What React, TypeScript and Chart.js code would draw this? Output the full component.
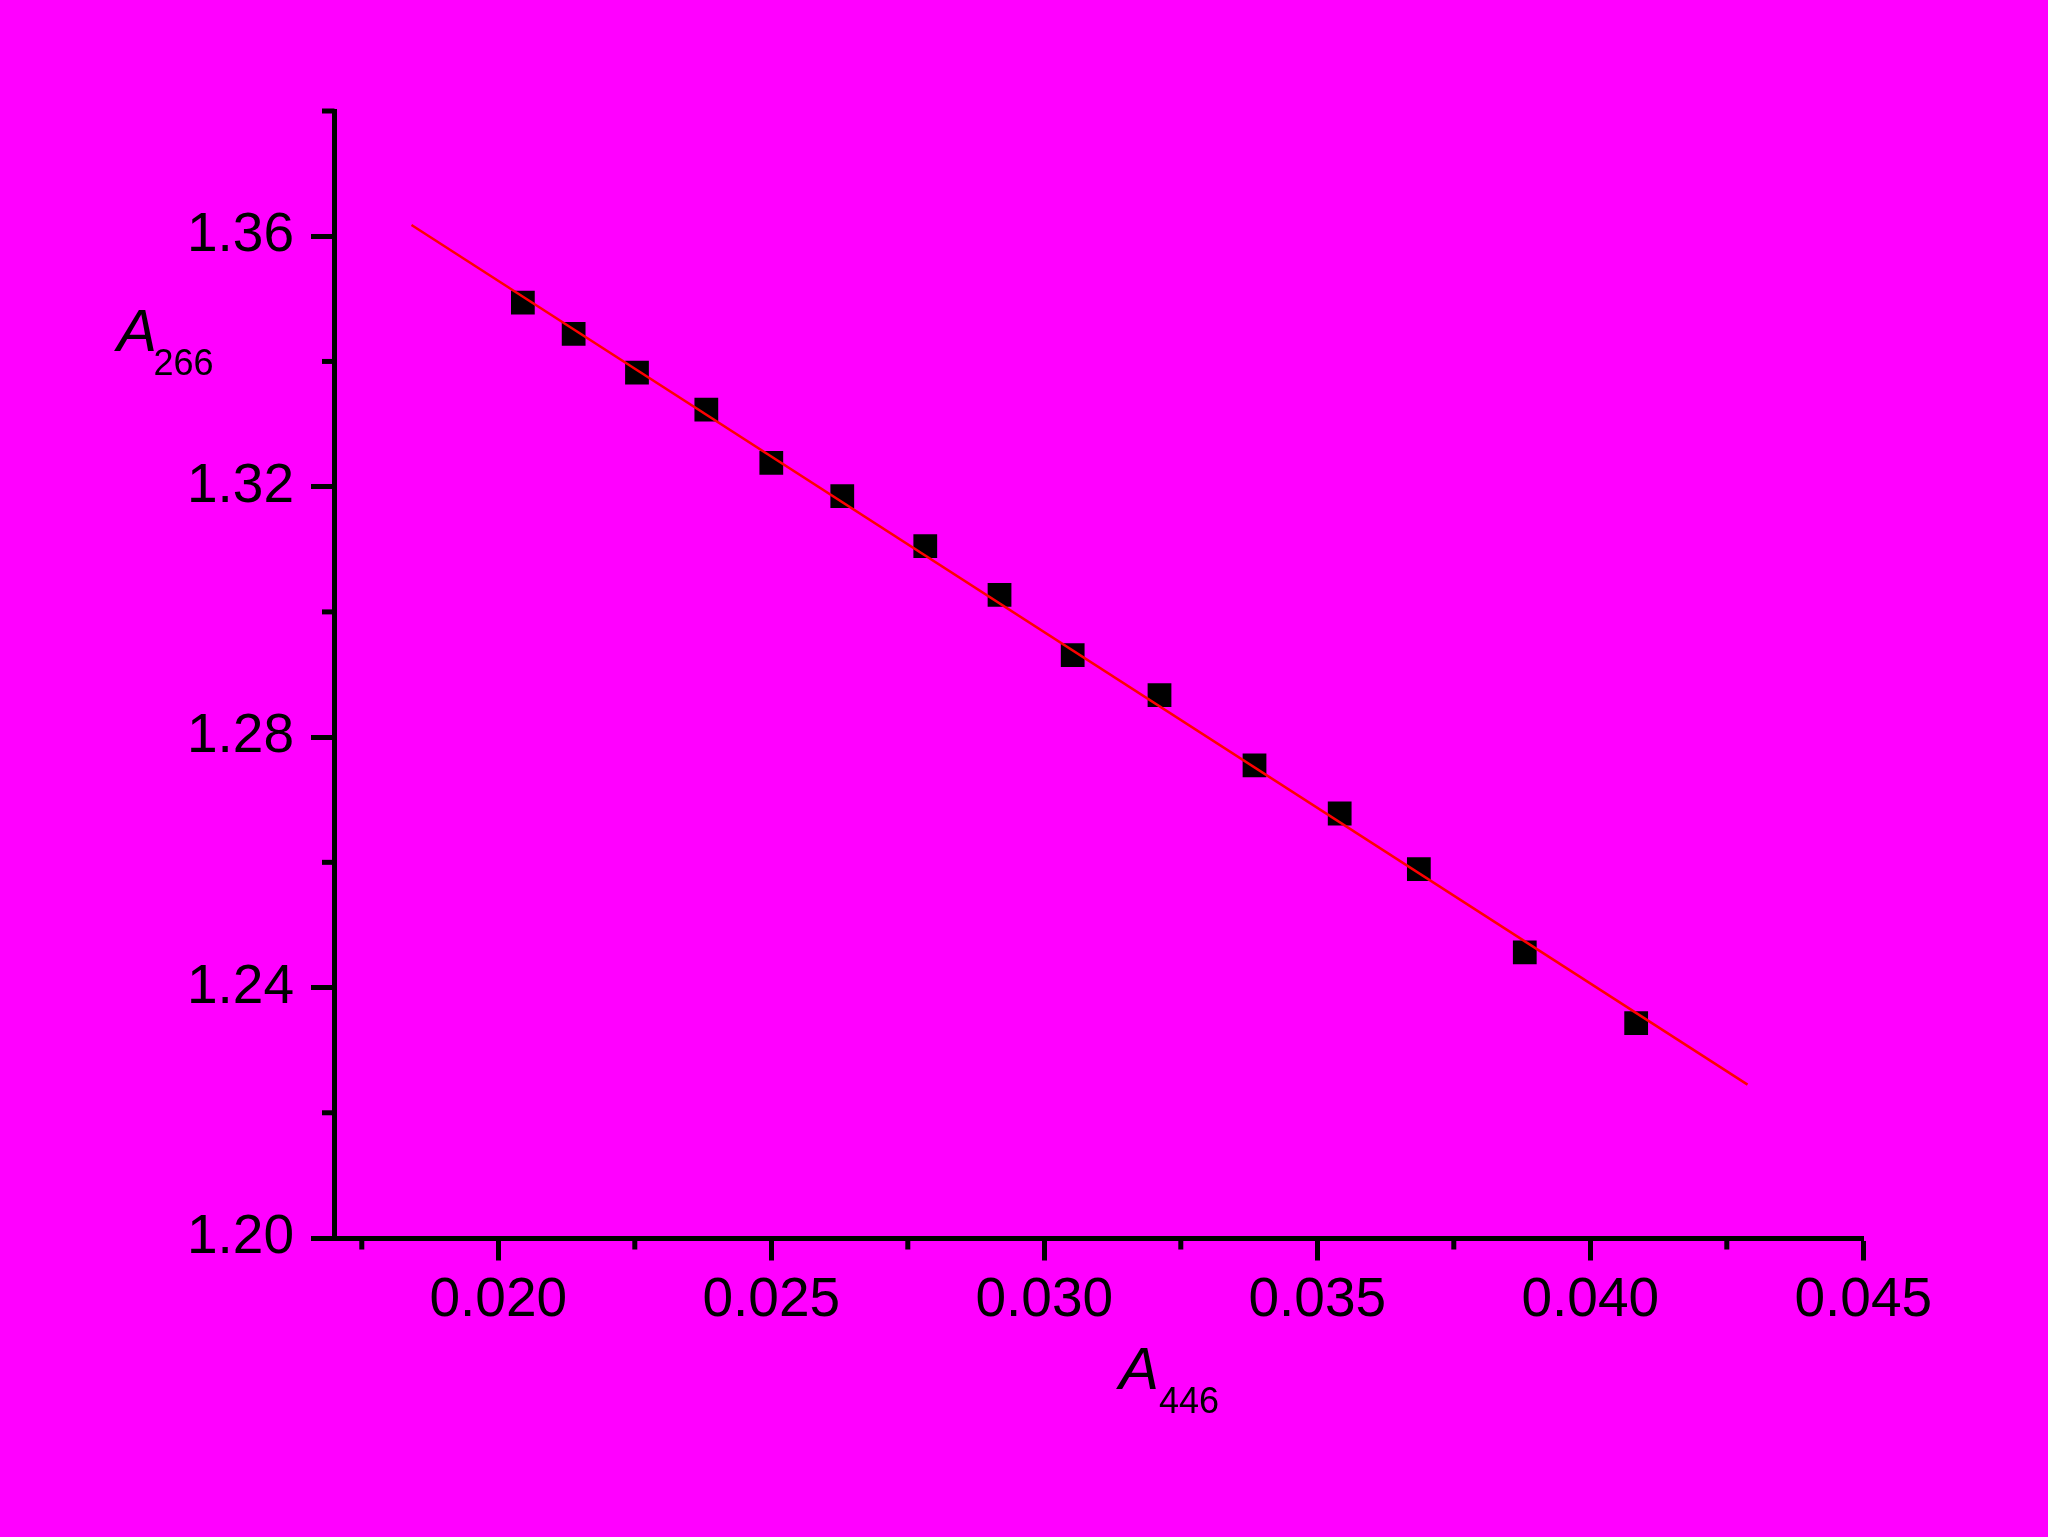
import { useEffect, useRef } from "react";
import { Chart, registerables } from "chart.js";

Chart.register(...registerables);

// Data
const a446 = [0.02045, 0.02138, 0.02254, 0.02381, 0.025, 0.0263, 0.02782, 0.02918, 0.03052, 0.03211, 0.03385, 0.03541, 0.03686, 0.0388, 0.04084];
const a266 = [1.3494, 1.3444, 1.3382, 1.3323, 1.3238, 1.3185, 1.3105, 1.3027, 1.2931, 1.2867, 1.2755, 1.2678, 1.2589, 1.2456, 1.2343];
const fitX = [0.01841, 0.04288];
const fitY = [1.3618, 1.2245];

const xTicks = [0.02, 0.025, 0.03, 0.035, 0.04, 0.045];
const xMinorTicks = [0.0175, 0.0225, 0.0275, 0.0325, 0.0375, 0.0425];
const yTicks = [1.2, 1.24, 1.28, 1.32, 1.36];
const yMinorTicks = [1.22, 1.26, 1.3, 1.34, 1.38];
const xRange = [0.017, 0.045];
const yRange = [1.2, 1.38];

const FONT = "'Liberation Sans', Arial, sans-serif";
const BG = "#FF00FF";
const AXIS_W = 5;

export default function App() {
  const ref = useRef<HTMLCanvasElement | null>(null);

  useEffect(() => {
    if (!ref.current) return;

    const bgPlugin = {
      id: "bg",
      beforeDraw(chart: any) {
        const { ctx, width, height } = chart;
        ctx.save();
        ctx.fillStyle = BG;
        ctx.fillRect(0, 0, width, height);
        ctx.restore();
      },
    };

    const minorPlugin = {
      id: "minorTicks",
      afterDraw(chart: any) {
        const { ctx, chartArea } = chart;
        const xs = chart.scales.x;
        const ys = chart.scales.y;
        ctx.save();
        ctx.strokeStyle = "#000";
        ctx.lineWidth = AXIS_W;
        ctx.lineCap = "butt";
        xMinorTicks.forEach((v) => {
          const px = xs.getPixelForValue(v);
          ctx.beginPath();
          ctx.moveTo(px, chartArea.bottom);
          ctx.lineTo(px, chartArea.bottom + 11.5);
          ctx.stroke();
        });
        yMinorTicks.forEach((v) => {
          const py = ys.getPixelForValue(v);
          ctx.beginPath();
          ctx.moveTo(chartArea.left, py);
          ctx.lineTo(chartArea.left - 12.5, py);
          ctx.stroke();
        });
        ctx.restore();
      },
    };

    const titlePlugin = {
      id: "titles",
      afterDraw(chart: any) {
        const { ctx } = chart;
        ctx.save();
        ctx.fillStyle = "#000";
        ctx.textBaseline = "alphabetic";
        ctx.textAlign = "left";
        // y title
        ctx.font = `italic 60px ${FONT}`;
        ctx.fillText("A", 117, 351);
        ctx.font = `36px ${FONT}`;
        ctx.fillText("266", 153.5, 375);
        // x title
        ctx.font = `italic 60px ${FONT}`;
        ctx.fillText("A", 1119, 1389);
        ctx.font = `36px ${FONT}`;
        ctx.fillText("446", 1159, 1413);
        ctx.restore();
      },
    };

    const tickFont = { family: FONT, size: 55 };

    const chart = new Chart(ref.current, {
      type: "scatter",
      data: {
        datasets: [
          {
            label: "fit",
            data: fitX.map((x, i) => ({ x, y: fitY[i] })),
            showLine: true,
            borderColor: "#FF0000",
            borderWidth: 2.5,
            pointRadius: 0,
            fill: false,
            order: 0,
          },
          {
            label: "data",
            data: a446.map((x, i) => ({ x, y: a266[i] })),
            pointStyle: "rect",
            pointRadius: 16.8,
            pointBackgroundColor: "#000",
            pointBorderWidth: 0,
            borderColor: "#000",
            backgroundColor: "#000",
            showLine: false,
            order: 1,
          },
        ],
      },
      options: {
        animation: false,
        responsive: false,
        devicePixelRatio: 1,
        layout: { padding: { left: 0, top: 111, right: 184.7, bottom: 0 } },
        plugins: {
          legend: { display: false },
          tooltip: { enabled: false },
          title: { display: false },
        },
        scales: {
          x: {
            type: "linear",
            min: xRange[0],
            max: xRange[1],
            afterBuildTicks: (s: any) => {
              s.ticks = xTicks.map((v) => ({ value: v }));
            },
            afterFit: (s: any) => {
              s.height = 299;
            },
            ticks: {
              callback: (v: any) => Number(v).toFixed(3),
              font: tickFont,
              color: "#000",
              padding: 7,
              maxRotation: 0,
              minRotation: 0,
              autoSkip: false,
            },
            grid: {
              display: true,
              drawOnChartArea: false,
              drawTicks: true,
              tickLength: 22.5,
              tickWidth: AXIS_W,
              tickColor: "#000",
            },
            border: { display: true, color: "#000", width: AXIS_W },
          },
          y: {
            type: "linear",
            min: yRange[0],
            max: yRange[1],
            afterBuildTicks: (s: any) => {
              s.ticks = yTicks.map((v) => ({ value: v }));
            },
            afterFit: (s: any) => {
              s.width = 334.5;
            },
            ticks: {
              callback: (v: any) => Number(v).toFixed(2),
              font: tickFont,
              color: "#000",
              padding: 17,
              autoSkip: false,
            },
            grid: {
              display: true,
              drawOnChartArea: false,
              drawTicks: true,
              tickLength: 23.5,
              tickWidth: AXIS_W,
              tickColor: "#000",
            },
            border: { display: true, color: "#000", width: AXIS_W },
          },
        },
      },
      plugins: [bgPlugin, minorPlugin, titlePlugin],
    } as any);

    return () => chart.destroy();
  }, []);

  return (
    <div style={{ position: "fixed", left: 0, top: 0, width: 2048, height: 1537, background: BG }}>
      <canvas ref={ref} width={2048} height={1537} style={{ display: "block", width: 2048, height: 1537 }} />
    </div>
  );
}
